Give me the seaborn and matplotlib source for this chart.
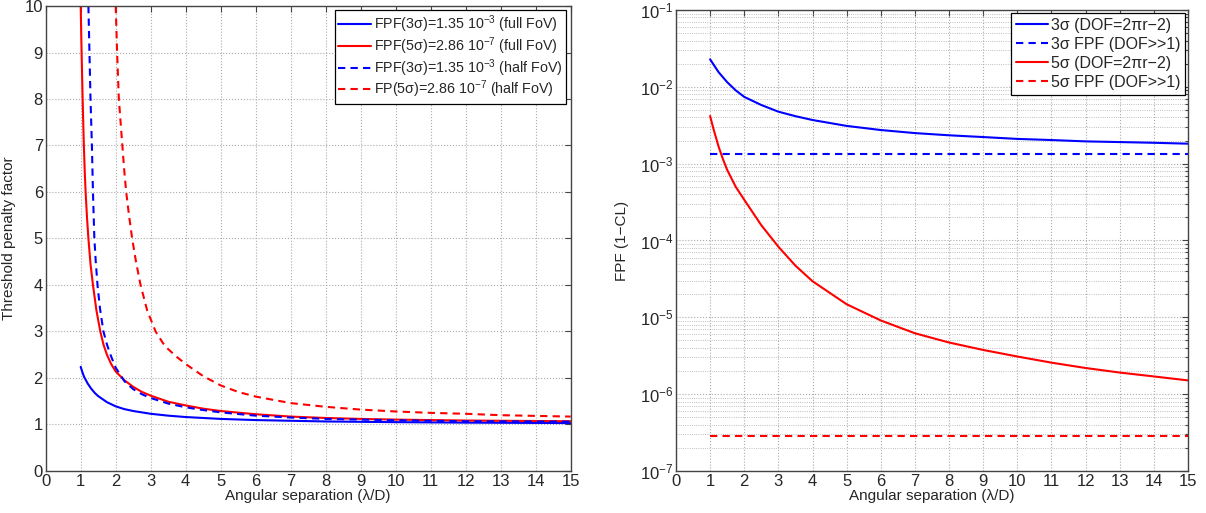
import matplotlib
matplotlib.use("Agg")
import matplotlib.pyplot as plt
import seaborn as sns
from matplotlib.ticker import MultipleLocator, LogLocator, NullFormatter

# ---- left panel: threshold penalty factor ----
x_3s_full = [1, 1.05, 1.1, 1.2, 1.3, 1.4, 1.5, 1.75, 2, 2.25, 2.5, 3, 3.5, 4,
             5, 6, 7, 8, 10, 12, 15]
y_3s_full = [2.24, 2.12, 2.02, 1.88, 1.77, 1.68, 1.61, 1.48, 1.39, 1.33, 1.29,
             1.23, 1.19, 1.16, 1.12, 1.095, 1.08, 1.065, 1.05, 1.04, 1.03]

x_5s_full = [1.0, 1.02, 1.04, 1.065, 1.09, 1.115, 1.14, 1.18, 1.22, 1.28, 1.35,
             1.45, 1.56, 1.65, 1.75, 1.87, 2.0, 2.25, 2.5, 2.75, 3, 3.5, 4,
             4.5, 5, 6, 7, 8, 9, 10, 12, 15]
y_5s_full = [10.0, 9.2, 8.5, 7.7, 7.0, 6.45, 6.0, 5.45, 5.0, 4.45, 4.0, 3.45,
             3.0, 2.72, 2.5, 2.3, 2.14, 1.95, 1.81, 1.70, 1.62, 1.49, 1.41,
             1.34, 1.29, 1.22, 1.17, 1.14, 1.12, 1.105, 1.085, 1.07]

x_3s_half = [1.22, 1.235, 1.25, 1.265, 1.28, 1.3, 1.32, 1.335, 1.35, 1.37, 1.39,
             1.43, 1.48, 1.55, 1.65, 1.75, 1.85, 2.0, 2.25, 2.5, 2.75, 3, 3.5,
             4, 4.5, 5, 6, 7, 8, 10, 12, 15]
y_3s_half = [10.0, 9.5, 9.0, 8.5, 8.0, 7.5, 7.0, 6.5, 6.0, 5.5, 5.0, 4.5, 4.0,
             3.5, 3.0, 2.72, 2.5, 2.22, 1.93, 1.76, 1.65, 1.57, 1.45, 1.37,
             1.31, 1.26, 1.19, 1.15, 1.12, 1.09, 1.07, 1.06]

x_5s_half = [2.0, 2.02, 2.04, 2.065, 2.09, 2.14, 2.19, 2.24, 2.30, 2.38, 2.47,
             2.58, 2.71, 2.9, 3.14, 3.35, 3.5, 3.75, 4, 4.5, 5, 5.5, 6, 7, 8,
             9, 10, 11, 12, 13, 14, 15]
y_5s_half = [10.0, 9.5, 9.0, 8.5, 8.0, 7.5, 7.0, 6.5, 6.0, 5.5, 5.0, 4.5, 4.0,
             3.45, 3.0, 2.75, 2.62, 2.45, 2.30, 2.04, 1.84, 1.70, 1.60, 1.46,
             1.38, 1.32, 1.28, 1.25, 1.23, 1.20, 1.185, 1.17]

# ---- right panel: FPF ----
x_fpf_3s = [1, 1.25, 1.5, 1.75, 2, 2.5, 3, 3.5, 4, 5, 6, 7, 8, 9, 10, 11, 12,
            13, 14, 15]
y_fpf_3s = [2.28e-2, 1.55e-2, 1.15e-2, 9.0e-3, 7.4e-3, 5.8e-3, 4.75e-3, 4.15e-3,
            3.7e-3, 3.1e-3, 2.74e-3, 2.5e-3, 2.34e-3, 2.22e-3, 2.10e-3,
            2.03e-3, 1.95e-3, 1.91e-3, 1.87e-3, 1.82e-3]

x_fpf_5s = [1, 1.1, 1.25, 1.375, 1.5, 1.75, 2, 2.5, 3, 3.5, 4, 5, 6, 7, 8, 9,
            10, 11, 12, 13, 14, 15]
y_fpf_5s = [4.17e-3, 2.82e-3, 1.66e-3, 1.15e-3, 8.3e-4, 5.0e-4, 3.39e-4,
            1.58e-4, 8.3e-5, 4.7e-5, 2.95e-5, 1.48e-5, 9.1e-6, 6.2e-6, 4.7e-6,
            3.76e-6, 3.09e-6, 2.57e-6, 2.19e-6, 1.91e-6, 1.70e-6, 1.51e-6]

x_gauss = [1, 15]
y_gauss_3s = [1.35e-3, 1.35e-3]
y_gauss_5s = [2.86e-7, 2.86e-7]

sns.set_style("white")
plt.rcParams['font.family'] = ['Liberation Sans', 'DejaVu Sans']
plt.rcParams['mathtext.fontset'] = 'custom'
plt.rcParams['mathtext.rm'] = 'Liberation Sans'
plt.rcParams['mathtext.it'] = 'Liberation Sans:italic'
plt.rcParams['axes.edgecolor'] = '#444444'

fig = plt.figure(figsize=(12.06, 5.13), dpi=100)
ax1 = fig.add_axes([0.0379, 0.0819, 0.4353, 0.9064])
ax2 = fig.add_axes([0.5605, 0.0819, 0.4246, 0.8986])

dash = (0, (3.5, 2.5))
lw = 1.5

sns.lineplot(x=x_3s_full, y=y_3s_full, ax=ax1, color='blue', lw=lw,
             label=r'FPF(3σ)=1.35 10$^{-3}$ (full FoV)')
sns.lineplot(x=x_5s_full, y=y_5s_full, ax=ax1, color='red', lw=lw,
             label=r'FPF(5σ)=2.86 10$^{-7}$ (full FoV)')
sns.lineplot(x=x_3s_half, y=y_3s_half, ax=ax1, color='blue', lw=lw,
             linestyle=dash, label=r'FPF(3σ)=1.35 10$^{-3}$ (half FoV)')
sns.lineplot(x=x_5s_half, y=y_5s_half, ax=ax1, color='red', lw=lw,
             linestyle=dash, label=r'FP(5σ)=2.86 10$^{-7}$ (half FoV)')

ax1.set_xlim(0, 15)
ax1.set_ylim(0, 10)
ax1.xaxis.set_major_locator(MultipleLocator(1))
ax1.yaxis.set_major_locator(MultipleLocator(1))
ax1.set_xlabel('Angular separation (λ/D)', fontsize=11, labelpad=0)
ax1.set_ylabel('Threshold penalty factor', fontsize=11, labelpad=6)

sns.lineplot(x=x_fpf_3s, y=y_fpf_3s, ax=ax2, color='blue', lw=lw,
             label='3σ (DOF=2πr−2)')
sns.lineplot(x=x_gauss, y=y_gauss_3s, ax=ax2, color='blue', lw=lw,
             linestyle=dash, label='3σ FPF (DOF>>1)')
sns.lineplot(x=x_fpf_5s, y=y_fpf_5s, ax=ax2, color='red', lw=lw,
             label='5σ (DOF=2πr−2)')
sns.lineplot(x=x_gauss, y=y_gauss_5s, ax=ax2, color='red', lw=lw,
             linestyle=dash, label='5σ FPF (DOF>>1)')

ax2.set_yscale('log')
ax2.set_xlim(0, 15)
ax2.set_ylim(1e-7, 1e-1)
ax2.xaxis.set_major_locator(MultipleLocator(1))
ax2.yaxis.set_major_locator(LogLocator(base=10, numticks=10))
ax2.yaxis.set_minor_locator(LogLocator(base=10, subs=range(2, 10), numticks=20))
ax2.yaxis.set_minor_formatter(NullFormatter())
ax2.set_xlabel('Angular separation (λ/D)', fontsize=11, labelpad=0)
ax2.set_ylabel('FPF (1−CL)', fontsize=11, labelpad=8)

for ax in (ax1, ax2):
    ax.tick_params(axis='both', which='both', direction='in', top=True,
                   right=True, labelsize=12, length=4, width=0.8, pad=2,
                   color='#444444')
    ax.tick_params(which='minor', length=2)
    ax.grid(True, which='major', linestyle=':', color='#aaaaaa', lw=0.8)
    for sp in ax.spines.values():
        sp.set_linewidth(1.0)

leg1 = ax1.legend(loc='upper right', fontsize=10.3, frameon=True,
                  fancybox=False, edgecolor='black', framealpha=1,
                  handlelength=2.3, handletextpad=0.2, borderpad=0.25,
                  labelspacing=0.0, borderaxespad=0.3)
leg2 = ax2.legend(loc='upper right', fontsize=11.5, frameon=True,
                  fancybox=False, edgecolor='black', framealpha=1,
                  handlelength=2.0, handletextpad=0.15, borderpad=0.3,
                  labelspacing=0.25, borderaxespad=0.2)
for leg in (leg1, leg2):
    leg.get_frame().set_linewidth(0.9)

ax2.grid(True, which='minor', axis='y', linestyle=':', color='#aaaaaa', lw=0.6)

fig.savefig('out.png', dpi=100)
